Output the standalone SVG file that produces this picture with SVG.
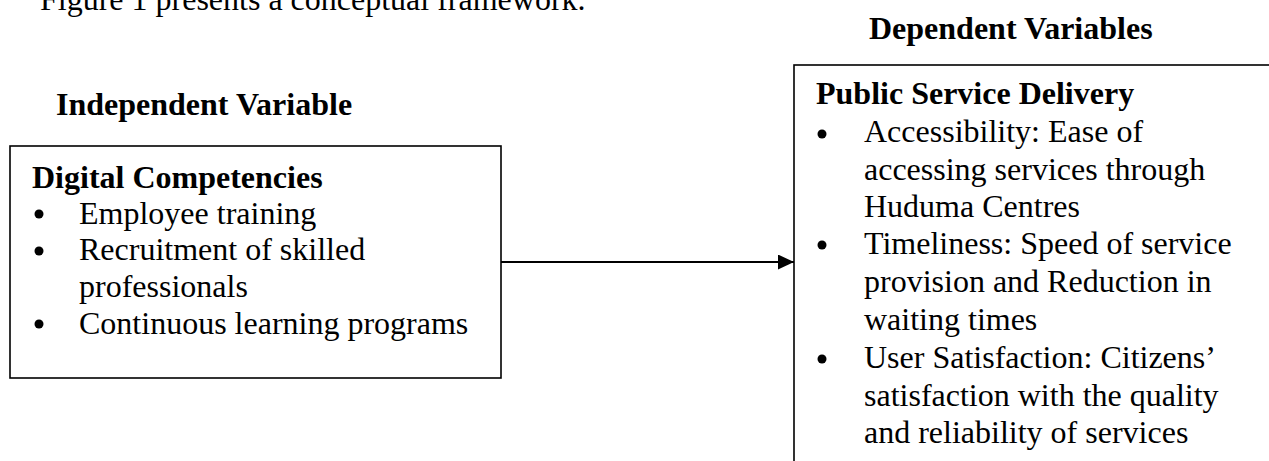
<svg xmlns="http://www.w3.org/2000/svg" width="1269" height="461" viewBox="0 0 1269 461">
<style>
text{font-family:"Liberation Serif","Times New Roman",serif;font-size:32px;fill:#000}
.b{font-weight:bold}
.box{fill:#fff;stroke:#000;stroke-width:1.6}
.bul{fill:#000}
.conn{stroke:#000;stroke-width:2.2;fill:none}
</style>
<defs>
<marker id="arr" markerWidth="16" markerHeight="16" refX="16" refY="7.5" orient="auto" markerUnits="userSpaceOnUse">
<polygon points="0,0 16,7.5 0,15" fill="#000"/>
</marker>
</defs>
<rect width="1269" height="461" fill="#fff"/>
<text x="40" y="10">Figure 1 presents a conceptual framework.</text>
<text class="b" x="56" y="115">Independent Variable</text>
<text class="b" x="869" y="39">Dependent Variables</text>
<g id="node-independent">
<rect class="box" x="10" y="146" width="491" height="232"/>
<text class="b" x="32" y="187.5">Digital Competencies</text>
<circle class="bul" cx="39" cy="214" r="4.5"/>
<text x="79" y="223.5">Employee training</text>
<circle class="bul" cx="39" cy="251" r="4.5"/>
<text x="79" y="260">Recruitment of skilled</text>
<text x="79" y="297">professionals</text>
<circle class="bul" cx="39" cy="324" r="4.5"/>
<text x="79" y="333.5">Continuous learning programs</text>
</g>
<g id="node-dependent">
<rect class="box" x="794" y="65" width="490" height="410"/>
<text class="b" x="816" y="104">Public Service Delivery</text>
<circle class="bul" cx="822" cy="134" r="4.5"/>
<text x="864" y="142">Accessibility: Ease of</text>
<text x="864" y="179.5">accessing services through</text>
<text x="864" y="217">Huduma Centres</text>
<circle class="bul" cx="822" cy="245" r="4.5"/>
<text x="864" y="254">Timeliness: Speed of service</text>
<text x="864" y="292">provision and Reduction in</text>
<text x="864" y="330">waiting times</text>
<circle class="bul" cx="822" cy="359" r="4.5"/>
<text x="864" y="368">User Satisfaction: Citizens’</text>
<text x="864" y="405.5">satisfaction with the quality</text>
<text x="864" y="443">and reliability of services</text>
</g>
<g id="connectors">
<line class="conn" x1="501" y1="262" x2="794" y2="262" marker-end="url(#arr)"/>
</g>
</svg>
